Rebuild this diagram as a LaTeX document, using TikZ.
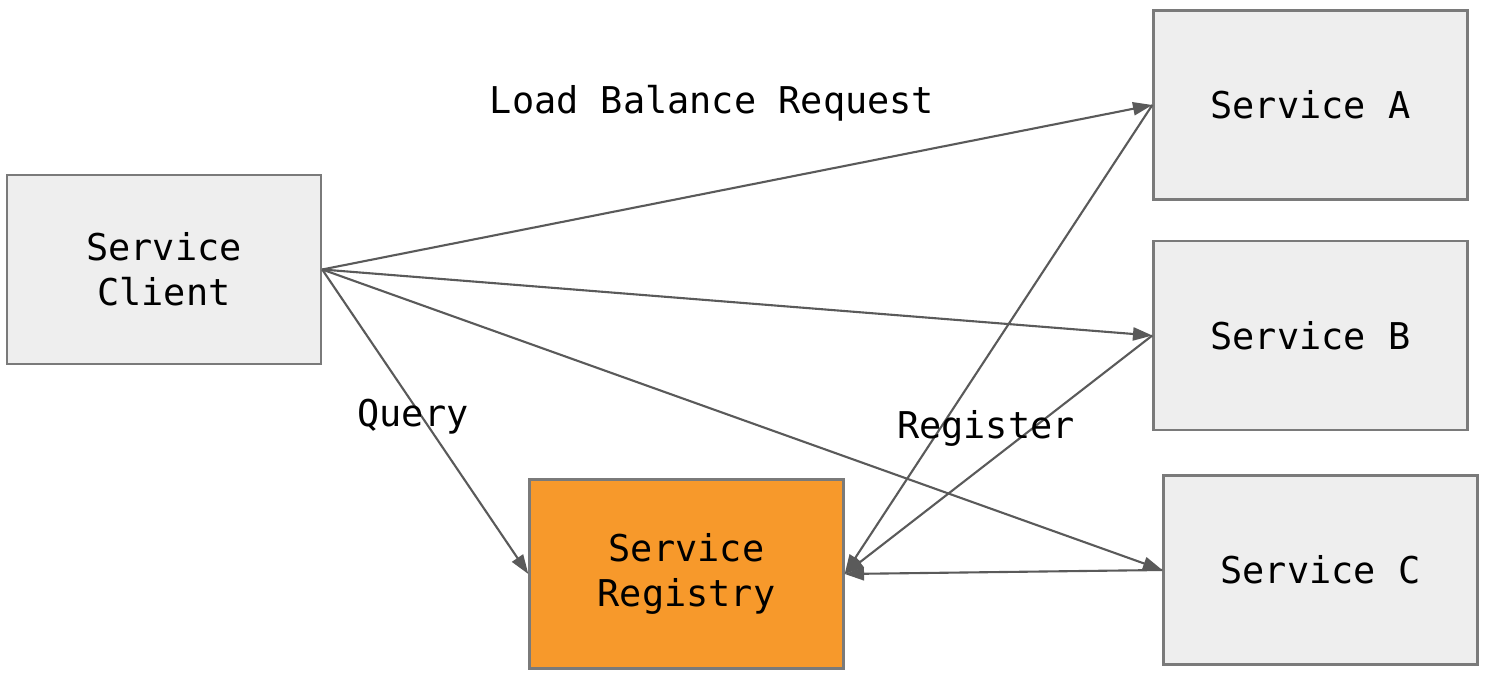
\documentclass[tikz,border=0pt]{standalone}
\usepackage{fontspec}
\setmonofont{DejaVu Sans Mono}
\usetikzlibrary{arrows.meta}
\definecolor{regfill}{HTML}{F7992B}
\definecolor{boxfill}{HTML}{EEEEEE}
\definecolor{boxline}{HTML}{7A7A7A}
\definecolor{linkgray}{HTML}{5A5A5A}
\begin{document}
\begin{tikzpicture}[x=0.02cm,y=-0.02cm,
  box/.style={draw=boxline,line width=1.4pt,fill=#1,minimum width=6.28cm,
    minimum height=3.78cm,align=center,font=\ttfamily\fontsize{21}{25.6}\selectfont},
  link/.style={draw=linkgray,line width=1.2pt,-{Triangle[length=11pt,width=7.5pt]}},
  lbl/.style={font=\ttfamily\fontsize{21}{25.6}\selectfont},
]
  \useasboundingbox (0,0) rectangle (1485,675);
  \node[box=boxfill] (client) at (164,269.5) {Service\\Client};
  \node[box=boxfill] (svcA) at (1310.5,105) {Service A};
  \node[box=boxfill] (svcB) at (1310.5,335.5) {Service B};
  \node[box=boxfill] (svcC) at (1320.5,570) {Service C};
  \node[box=regfill] (registry) at (686.5,574) {Service\\Registry};
  \draw[link] (client.east) -- (svcA.west);
  \draw[link] (client.east) -- (svcB.west);
  \draw[link] (client.east) -- (svcC.west);
  \draw[link] (client.east) -- (registry.west);
  \draw[link] (svcA.west) -- (registry.east);
  \draw[link] (svcB.west) -- (registry.east);
  \draw[link] (svcC.west) -- (registry.east);
  \node[lbl] (lblLoad) at (712,103) {Load Balance Request};
  \node[lbl] (lblQuery) at (413,417) {Query};
  \node[lbl] (lblReg) at (986,428) {Register};
\end{tikzpicture}
\end{document}
